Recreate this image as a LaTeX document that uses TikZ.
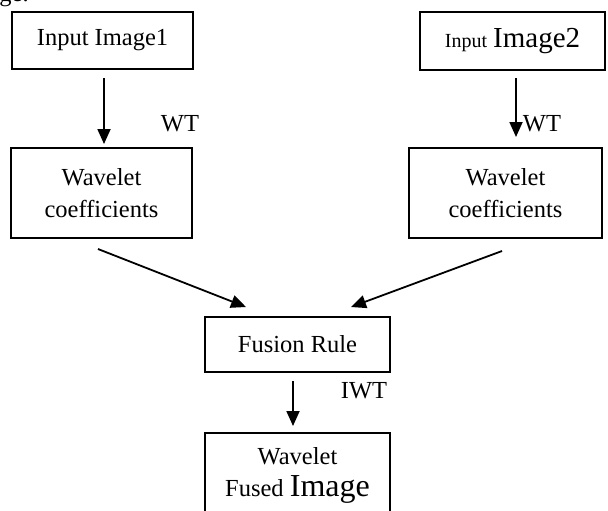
\documentclass[tikz,border=0pt]{standalone}
\usepackage{fontspec}
\setmainfont{Liberation Serif}
\usetikzlibrary{arrows.meta}
\tikzset{
  box/.style={draw,line width=1pt,inner sep=0pt,align=center,
    font=\fontsize{12.25}{16}\selectfont},
  arr/.style={line width=0.9pt,-{Triangle[length=7.5pt,width=6.5pt]}},
  lbl/.style={font=\fontsize{12.25}{15}\selectfont,inner sep=0pt}
}
\begin{document}
\begin{tikzpicture}[x=0.5pt,y=-0.5pt]
        \useasboundingbox (0,0) rectangle (608,510);
        \node[lbl,anchor=base west] (frag) at (-1,1) {ge.};
        \node[box,minimum width=90.5pt,minimum height=28.5pt] (in1) at (102.5,40.5) {Input Image1};
        \node[box,minimum width=92.5pt,minimum height=29pt] (in2) at (512.5,41)
          {{\fontsize{10}{12}\selectfont Input} {\fontsize{14.5}{16}\selectfont Image2}};
        \node[box,minimum width=90.5pt,minimum height=45pt] (wc1) at (101.5,193) {Wavelet\\coefficients};
        \node[box,minimum width=96.5pt,minimum height=45pt] (wc2) at (505.5,193) {Wavelet\\coefficients};
        \node[box,minimum width=92.5pt,minimum height=27.5pt] (fus) at (297.5,344.5) {Fusion Rule};
        \node[box,minimum width=92.5pt,minimum height=42.5pt] (out) at (297.5,475.5)
          {Wavelet\\Fused {\fontsize{16}{16.5}\selectfont Image}};
        \node[lbl] (wt1) at (180,124) {WT};
        \node[lbl] (wt2) at (542,124) {WT};
        \node[lbl] (iwt) at (364,391) {IWT};
        \draw[arr] ([xshift=0.75pt,yshift=-4pt]in1.south) -- ([xshift=0.75pt,yshift=1.5pt]in1.south |- wc1.north);
        \draw[arr] ([xshift=1.75pt,yshift=-3.5pt]in2.south) -- ([xshift=1.75pt,yshift=5pt]in2.south |- wc2.north);
        \draw[arr] ([xshift=-1.75pt,yshift=-5pt]wc1.south) -- ([xshift=21pt,yshift=4.5pt]fus.north west);
        \draw[arr] ([xshift=-1.75pt,yshift=-6pt]wc2.south) -- ([xshift=-20pt,yshift=4.5pt]fus.north east);
        \draw[arr] ([xshift=-2.25pt,yshift=-4pt]fus.south) -- ([xshift=-2.25pt,yshift=3pt]fus.south |- out.north);
\end{tikzpicture}
\end{document}
